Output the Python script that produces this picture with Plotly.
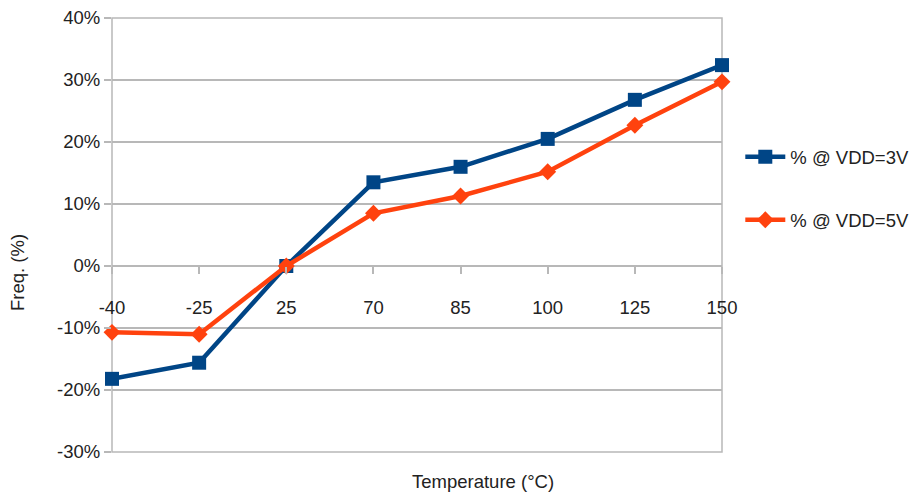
import plotly.graph_objects as go

temps = ["-40", "-25", "25", "70", "85", "100", "125", "150"]
vdd3 = [-0.182, -0.156, 0.0, 0.135, 0.160, 0.205, 0.268, 0.324]
vdd5 = [-0.107, -0.110, 0.0, 0.085, 0.113, 0.152, 0.227, 0.297]
y_ticks = [-0.3, -0.2, -0.1, 0.0, 0.1, 0.2, 0.3, 0.4]
y_labels = ["-30%", "-20%", "-10%", "0%", "10%", "20%", "30%", "40%"]

BLUE = "#004586"
ORANGE = "#ff420e"
GRID = "#b8b8b8"
FONT = dict(family="Liberation Sans, Arial, sans-serif", size=18.5, color="#222222")

fig = go.Figure()
fig.add_trace(go.Scatter(
    x=temps, y=vdd3, name="% @ VDD=3V", mode="lines+markers",
    line=dict(color=BLUE, width=4.5),
    marker=dict(symbol="square", size=14, color=BLUE),
    cliponaxis=False, legendgroup="a",
))
fig.add_trace(go.Scatter(
    x=temps, y=vdd5, name="% @ VDD=5V", mode="lines+markers",
    line=dict(color=ORANGE, width=4.5),
    marker=dict(symbol="diamond", size=13, color=ORANGE),
    cliponaxis=False, legendgroup="b",
))

fig.update_layout(
    width=918, height=495,
    margin=dict(l=112, r=196, t=18, b=43, autoexpand=False),
    plot_bgcolor="white", paper_bgcolor="white",
    font=FONT,
    showlegend=True,
    legend=dict(
        x=1.03, y=0.723, xanchor="left", yanchor="top",
        traceorder="grouped", tracegroupgap=36,
        font=FONT, itemwidth=40, bgcolor="rgba(0,0,0,0)",
    ),
    xaxis=dict(
        type="category", range=[0, 7], automargin=False,
        anchor="free", position=3 / 7,
        showgrid=False, showline=False, zeroline=False,
        ticks="outside", ticklen=7, tickcolor=GRID, tickwidth=1.5,
        ticklabelstandoff=18,
        tickfont=FONT,
    ),
    yaxis=dict(
        range=[-0.3, 0.4], tickvals=y_ticks, ticktext=y_labels,
        automargin=False,
        showgrid=True, gridcolor=GRID, gridwidth=1.5,
        zeroline=True, zerolinecolor=GRID, zerolinewidth=1.5,
        showline=False,
        ticks="outside", ticklen=7, tickcolor=GRID, tickwidth=1.5,
        tickfont=FONT,
    ),
    shapes=[
        dict(type="rect", xref="paper", yref="paper", x0=0, x1=1, y0=0, y1=1,
             line=dict(color=GRID, width=1.5), layer="below"),
    ],
    annotations=[
        dict(text="Temperature (°C)", xref="paper", yref="paper",
             x=(483 - 112) / 610, y=-(481 - 452) / 434,
             xanchor="center", yanchor="middle", showarrow=False, font=FONT),
        dict(text="Freq. (%)", xref="paper", yref="paper", textangle=-90,
             x=-(112 - 17) / 610, y=(452 - 273) / 434,
             xanchor="center", yanchor="middle", showarrow=False, font=FONT),
    ],
)

fig.write_html(
    "out.html",
    config={"displayModeBar": False},
    post_script="document.body.style.margin='0';document.body.style.overflow='hidden';",
)
